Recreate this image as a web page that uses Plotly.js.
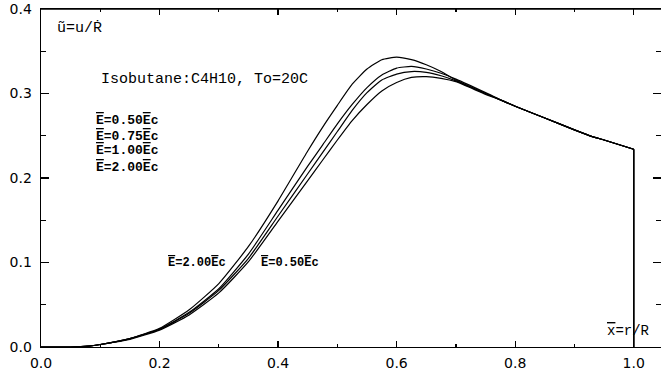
<!DOCTYPE html>
<html><head><meta charset="utf-8">
<script src="https://cdn.plot.ly/plotly-3.0.1.min.js"></script>
<style>html,body{margin:0;padding:0;background:#fff}#chart{width:661px;height:374px}</style>
</head><body><div id="chart"></div>
<script>
const xVals = [0,0.05,0.08,0.10,0.15,0.20,0.25,0.30,0.35,0.40,0.45,0.475,0.50,0.525,0.55,0.575,0.60,0.625,0.65,0.675,0.70,0.75,0.78,0.80,0.85,0.90,0.93,0.95,1.00,1.00];
const yE200 = [0,0,0.001,0.003,0.010,0.022,0.044,0.075,0.119,0.173,0.232,0.260,0.286,0.311,0.329,0.340,0.343,0.340,0.334,0.326,0.316,0.300,0.291,0.285,0.271,0.257,0.249,0.245,0.234,0];
const yE100 = [0,0,0.001,0.003,0.010,0.021,0.041,0.069,0.110,0.162,0.214,0.239,0.264,0.287,0.307,0.322,0.330,0.332,0.329,0.324,0.317,0.301,0.291,0.285,0.271,0.257,0.249,0.245,0.234,0];
const yE075 = [0,0,0.001,0.003,0.010,0.021,0.040,0.067,0.105,0.155,0.205,0.230,0.255,0.280,0.301,0.316,0.323,0.326,0.325,0.321,0.315,0.300,0.291,0.285,0.271,0.257,0.249,0.245,0.234,0];
const yE050 = [0,0,0.001,0.003,0.009,0.020,0.038,0.064,0.101,0.149,0.197,0.221,0.245,0.268,0.287,0.303,0.313,0.319,0.320,0.318,0.314,0.299,0.291,0.285,0.271,0.257,0.249,0.245,0.234,0];
const seriesRatios = ['0.50','0.75','1.00','2.00'];
const seriesY = [yE050, yE075, yE100, yE200];
const xTickVals = [0,0.2,0.4,0.6,0.8,1.0];
const xTickText = ['0.0','0.2','0.4','0.6','0.8','1.0'];
const yTickVals = [0,0.1,0.2,0.3,0.4];
const yTickText = ['0.0','0.1','0.2','0.3','0.4'];

const OL = s => '<span style="text-decoration:overline">'+s+'</span>';
const eLabel = r => OL('E')+'='+r+OL('E')+'c';

const traces = [];
seriesY.forEach((y,i)=>{
  const n = y.length;
  traces.push({x:xVals.slice(0,n-1), y:y.slice(0,n-1), type:'scatter', mode:'lines', name:'E='+seriesRatios[i]+'Ec',
    line:{color:'#000', width:1.2, shape:'spline', smoothing:0.5}});
  traces.push({x:xVals.slice(n-2), y:y.slice(n-2), type:'scatter', mode:'lines', showlegend:false,
    line:{color:'#000', width:1.1}});
});

const mono = 'Liberation Mono, Courier New, monospace';
const ann = (text,x,y,size,bold)=>({text:text,x:x,y:y,xref:'x',yref:'y',xanchor:'left',yanchor:'middle',showarrow:false,
  font:{family:mono,size:size,color:'#000',weight:bold?'bold':'normal'}});

const annotations = [
  ann('ũ=u/Ṙ',0.024,0.377,15,false),
  ann('Isobutane:C4H10, To=20C',0.097,0.316,15,false),
  ann(eLabel(seriesRatios[0]),0.090,0.268,13,true),
  ann(eLabel(seriesRatios[1]),0.090,0.249,13,true),
  ann(eLabel(seriesRatios[2]),0.090,0.232,13,true),
  ann(eLabel(seriesRatios[3]),0.090,0.213,13,true),
  ann(eLabel(seriesRatios[3]),0.211,0.0995,12,true),
  ann(eLabel(seriesRatios[0]),0.367,0.0995,12,true),
  ann(OL('x')+'=r/R',0.952,0.019,14,false)
];

const tickFont = {family:'DejaVu Sans, Verdana, sans-serif', size:14, color:'#000'};
const layout = {
  width:661, height:374,
  margin:{l:41,r:0,t:9,b:27,pad:0},
  paper_bgcolor:'#fff', plot_bgcolor:'#fff',
  showlegend:false,
  xaxis:{range:[0,1.046], tickmode:'array', tickvals:xTickVals, ticktext:xTickText,
    ticks:'inside', ticklen:6, tickcolor:'#000', tickwidth:1.2, showgrid:false, zeroline:false,
    showline:true, linecolor:'#000', linewidth:1.4, mirror:'ticks', tickfont:tickFont, ticklabelstandoff:3,
    minor:{tickvals:[0.1,0.3,0.5,0.7,0.9], ticks:'inside', ticklen:3, tickcolor:'#000', showgrid:false}},
  yaxis:{range:[0,0.4], tickmode:'array', tickvals:yTickVals, ticktext:yTickText,
    ticks:'inside', ticklen:8, tickcolor:'#000', tickwidth:1.2, showgrid:false, zeroline:false,
    showline:true, linecolor:'#000', linewidth:1.4, mirror:'ticks', tickfont:tickFont, ticklabelstandoff:5,
    minor:{tickvals:[0.05,0.15,0.25,0.35], ticks:'inside', ticklen:5, tickcolor:'#000', showgrid:false}},
  shapes:[{type:'line', xref:'paper', yref:'paper', x0:0, x1:1, y0:1, y1:1, line:{color:'#000', width:1.4}}],
  annotations: annotations
};
Plotly.newPlot('chart', traces, layout, {staticPlot:true, displayModeBar:false});
</script></body></html>
